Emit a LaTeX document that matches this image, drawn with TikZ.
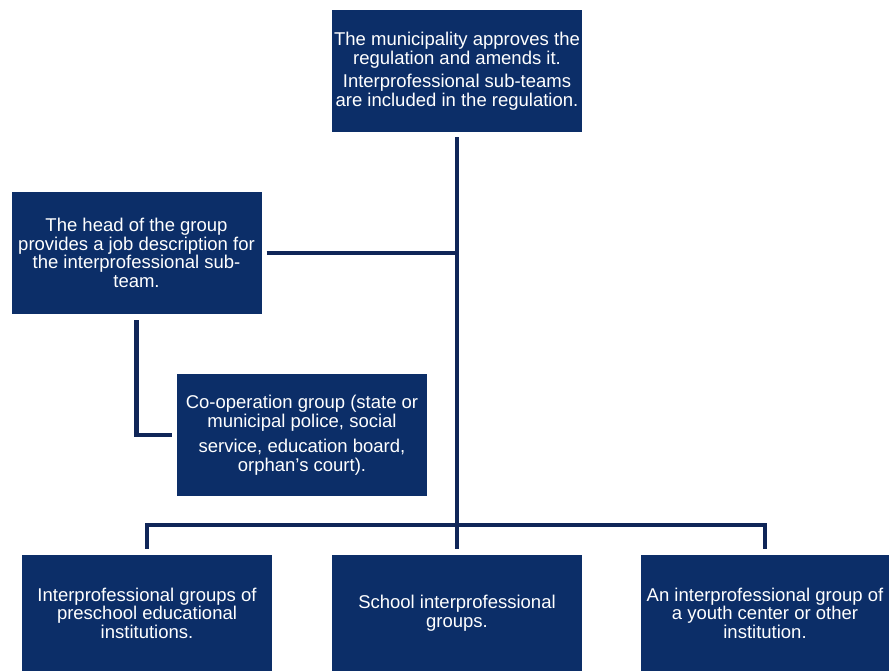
\documentclass[tikz,border=0pt]{standalone}
\usepackage{fontspec}
\setmainfont{Liberation Sans}
\definecolor{boxblue}{RGB}{12,46,104}
\definecolor{linenavy}{RGB}{16,38,88}
\tikzset{
  box/.style={rectangle, fill=boxblue, draw=none, text=white, align=center,
    minimum width=250pt, minimum height=122pt, inner sep=2pt,
    font=\fontsize{18.5}{18.5}\selectfont},
  conn/.style={draw=linenavy, line width=4.5pt, line join=miter, line cap=butt}
}
\begin{document}
\begin{tikzpicture}[x=1pt,y=-1pt]
\useasboundingbox (0,0) rectangle (889,671);
\node[box] (top) at (457,71) {The municipality approves the\\regulation and amends it.\\[5pt]Interprofessional sub-teams\\are included in the regulation.};
\node[box] (head) at (136.5,253) {The head of the group\\provides a job description for\\the interprofessional sub-\\team.};
\node[box] (coop) at (302,435) {Co-operation group (state or\\municipal police, social\\[7pt]service, education board,\\orphan's court).};
\node[box, minimum height=116pt] (pre) at (147,613) {Interprofessional groups of\\preschool educational\\institutions.};
\node[box, minimum height=116pt] (mid) at (457,613) {School interprofessional\\groups.};
\node[box, minimum height=116pt, minimum width=248pt] (you) at (765,613) {An interprofessional group of\\a youth center or other\\institution.};
\draw[conn] ([yshift=-5pt]top.south) -- ([yshift=6pt]mid.north);
\draw[conn] ([xshift=5pt]head.east) -- (head.east -| top.south);
\draw[conn] ([yshift=-6pt]head.south) |- ([xshift=-5pt]coop.west);
\draw[conn] ([yshift=6pt]pre.north) -- ++(0,-24) -| ([yshift=6pt]you.north);
\end{tikzpicture}
\end{document}
